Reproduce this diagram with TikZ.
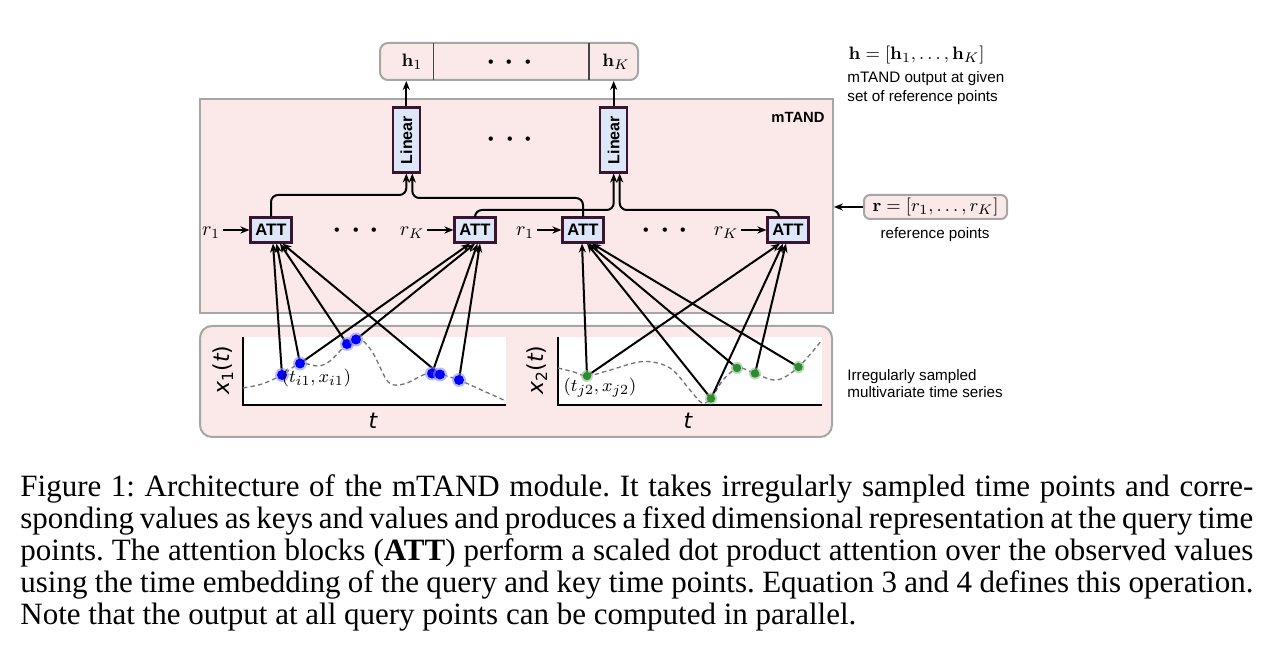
\documentclass[tikz,border=0pt]{standalone}
\usepackage[no-math]{fontspec}
\setmainfont{Liberation Serif}
\newfontfamily\hv{Liberation Sans}
\newfontfamily\dvs{DejaVu Sans}
\usetikzlibrary{arrows.meta,calc}
\definecolor{pinkbg}{RGB}{251,233,233}
\definecolor{graybd}{RGB}{166,166,166}
\definecolor{attfill}{RGB}{221,231,247}
\definecolor{attbd}{RGB}{58,21,48}
\definecolor{divc}{RGB}{70,70,70}
\definecolor{ptblue}{RGB}{0,0,255}
\definecolor{ptgreen}{RGB}{46,139,46}
\frenchspacing
\begin{document}
\begin{tikzpicture}[x=0.5pt,y=-0.5pt,
  arr/.style={line width=1pt,-{Stealth[length=4.5pt,width=3.6pt]}},
  conn/.style={arr,rounded corners=3.5pt},
  attbox/.style={draw=attbd,fill=attfill,line width=1.1pt,minimum width=20.5pt,minimum height=12.5pt,inner sep=0pt,font=\hv\bfseries\fontsize{8.3}{9}\selectfont},
  linbox/.style={attbox,rotate=90,minimum width=32.5pt,minimum height=13.5pt,font=\hv\bfseries\fontsize{8}{9}\selectfont},
  panel/.style={draw=graybd,fill=pinkbg,line width=1pt,inner sep=0pt},
  mathlbl/.style={font=\fontsize{9.5}{11}\selectfont,inner sep=0pt},
  rlbl/.style={font=\fontsize{10}{11}\selectfont,inner sep=1.2pt},
  side/.style={font=\hv\fontsize{7.6}{9.5}\selectfont,inner sep=0pt},
  dotsn/.style={font=\fontsize{21}{21}\selectfont,inner sep=0pt,anchor=base},
  axlbl/.style={font=\dvs\fontsize{11}{12}\selectfont,inner sep=0pt},
  curve/.style={black!55,line width=0.65pt,dash pattern=on 2.2pt off 1.6pt},
  capline/.style={font=\fontsize{15.5}{16}\selectfont,anchor=base west,inner sep=0pt},
]
\useasboundingbox (0,0) rectangle (1266,662);

% panels
\node[panel,minimum width=316.5pt,minimum height=107pt] (mtand) at (516.5,206) {};
\node[font=\hv\bfseries\fontsize{7.4}{9}\selectfont,inner sep=0pt] (mtandlbl) at (798,117) {mTAND};
\node[panel,rounded corners=6pt,minimum width=316pt,minimum height=55.5pt] (lower) at (516,381.5) {};
\node[panel,rounded corners=4pt,minimum width=129pt,minimum height=18.5pt] (out) at (509,61.5) {};
\draw[divc,line width=0.8pt] (433.3,43) -- (433.3,80);
\draw[divc,line width=0.8pt] (589,43) -- (589,80);
\node[mathlbl] (h1t) at (412,62) {$\mathbf{h}_1$};
\node[mathlbl] (hKt) at (616,62) {$\mathbf{h}_K$};
\node[dotsn] (dout) at (509.5,72.5) {$\cdots$};

% linear + att
\node[linbox] (lin1) at (406.3,140) {Linear};
\node[linbox] (lin2) at (613.7,140) {Linear};
\node[dotsn] (dlin) at (510,149.5) {$\cdots$};
\node[attbox] (att1) at (271,230) {ATT};
\node[attbox] (att2) at (475,230) {ATT};
\node[attbox] (att3) at (583,230) {ATT};
\node[attbox] (att4) at (788,230) {ATT};
\node[dotsn] (datt1) at (356,240.5) {$\cdots$};
\node[dotsn] (datt2) at (665,240.5) {$\cdots$};

\node[rlbl] (r1a) at (211,233) {$r_1$};
\node[rlbl] (rKa) at (412,233) {$r_K$};
\node[rlbl] (r1b) at (525,233) {$r_1$};
\node[rlbl] (rKb) at (726,233) {$r_K$};
\draw[arr] (att1.west -| r1a.east) -- (att1.west);
\draw[arr] (att2.west -| rKa.east) -- (att2.west);
\draw[arr] (att3.west -| r1b.east) -- (att3.west);
\draw[arr] (att4.west -| rKb.east) -- (att4.west);

\draw[arr] (lin1.east) -- (lin1.east |- out.south);
\draw[arr] (lin2.east) -- (lin2.east |- out.south);

\coordinate (ya) at (0,195);
\coordinate (yb) at (0,198);
\coordinate (yc) at (0,210);
\draw[conn] (att1.north) -- (att1.north |- ya) -| (lin1.west);
\draw[conn] (att3.north) -- (att3.north |- yb) -| ($(lin1.west)+(6,0)$);
\draw[conn] (att2.north) -- (att2.north |- yc) -| (lin2.west);
\draw[conn] ($(att4.north)+(-9,0)$) -- ($(att4.north |- yc)+(-9,0)$) -| ($(lin2.west)+(6,0)$);

% plots
\fill[white] (243,337) rectangle (506,405);
\draw[black,line width=0.6pt] (243,337) -- (243,405) -- (506,405);
\fill[white] (558,337) rectangle (822,405);
\draw[black,line width=0.6pt] (558,337) -- (558,405) -- (822,405);

\draw[curve] plot[smooth,tension=0.55] coordinates {(243,388) (262,384) (282,375) (300,363.5) (318,366) (330,361) (347,344) (356,339.5) (362,340) (373,353) (386,379) (394,385) (407,383) (423,375) (432,373.5) (443,375) (459,380) (477,388) (497,397) (506,401)};
\draw[curve] plot[smooth,tension=0.55] coordinates {(558,368) (574,372) (587,376) (607,371) (643,361.5) (670,368) (690,390) (702,403) (711,398.5) (723,380) (737,368) (747,370) (755,373.5) (777,380) (798.5,367) (822,340)};

\node[axlbl,rotate=90] (yl1) at (223,370) {{\itshape x}\raisebox{-0.3ex}{\fontsize{7.7}{8}\selectfont 1}({\itshape t})};
\node[axlbl] (xl1) at (373,421) {\itshape t};
\node[axlbl,rotate=90] (yl2) at (537,370) {{\itshape x}\raisebox{-0.3ex}{\fontsize{7.7}{8}\selectfont 2}({\itshape t})};
\node[axlbl] (xl2) at (688,421) {\itshape t};

% points
\coordinate (b1) at (282,375);
\coordinate (b2) at (300,363.5);
\coordinate (b3) at (347,344);
\coordinate (b4) at (356,339.5);
\coordinate (b5) at (432,373.5);
\coordinate (b6) at (440,374.5);
\coordinate (b7) at (459,380);
\coordinate (g1) at (587,376);
\coordinate (g2) at (711,398.5);
\coordinate (g3) at (737,368);
\coordinate (g4) at (755,373.5);
\coordinate (g5) at (798.5,367);

\draw[arr] (b1) -- ($(att1.south)+(2,0)$);
\draw[arr] (b2) -- ($(att1.south)+(5.5,0)$);
\draw[arr] (b3) -- ($(att1.south)+(9,0)$);
\draw[arr] (b6) -- ($(att1.south)+(11.5,0)$);
\draw[arr] (b2) -- ($(att2.south)+(-5,0)$);
\draw[arr] (b4) -- ($(att2.south)+(0,0)$);
\draw[arr] (b5) -- ($(att2.south)+(2.5,0)$);
\draw[arr] (b7) -- ($(att2.south)+(5,0)$);
\draw[arr] (g1) -- ($(att3.south)+(-1,0)$);
\draw[arr] (g2) -- ($(att3.south)+(4,0)$);
\draw[arr] (g3) -- ($(att3.south)+(5.5,0)$);
\draw[arr] (g5) -- ($(att3.south)+(9,0)$);
\draw[arr] (g1) -- ($(att4.south)+(-8,0)$);
\draw[arr] (g2) -- ($(att4.south)+(-5,0)$);
\draw[arr] (g4) -- ($(att4.south)+(-2,0)$);

\foreach \p in {b1,b2,b3,b4,b5,b6,b7}{
  \fill[ptblue!45,opacity=0.6] (\p) circle (3.5pt);
  \fill[ptblue] (\p) circle (2.5pt);
}
\foreach \p in {g1,g2,g3,g4,g5}{
  \fill[ptgreen!55,opacity=0.6] (\p) circle (3pt);
  \fill[ptgreen] (\p) circle (2.1pt);
}

\node[mathlbl] (lbl1) at (316.5,378) {$(t_{i1},x_{i1})$};
\node[mathlbl] (lbl2) at (600,388) {$(t_{j2},x_{j2})$};

% right side annotations
\node[mathlbl] (hdef) at (916.5,55) {$\mathbf{h}=[\mathbf{h}_1,\ldots,\mathbf{h}_K]$};
\node[side,anchor=base west] (o1) at (847,83) {mTAND output at given};
\node[side,anchor=base west] (o2) at (847,102) {set of reference points};
\node[panel,rounded corners=3pt,minimum width=71.5pt,minimum height=12pt,font=\fontsize{9.5}{11}\selectfont] (rbox) at (935.5,207) {$\mathbf{r}=[r_1,\ldots,r_K]$};
\draw[arr] (rbox.west) -- (rbox.west -| mtand.east);
\node[side] (refpts) at (935,235) {reference points};
\node[side,anchor=base west] (irr1) at (847,381) {Irregularly sampled};
\node[side,anchor=base west] (irr2) at (847,398) {multivariate time series};

% caption
\node[capline] (c1) at (20,497) {\makebox[616.5pt][s]{Figure 1: Architecture of the mTAND module. It takes irregularly sampled time points and corre-}};
\node[capline] (c2) at (20,529) {\makebox[616.5pt][s]{sponding values as keys and values and produces a fixed dimensional representation at the query time}};
\node[capline] (c3) at (20,561) {\makebox[616.5pt][s]{points. The attention blocks (\textbf{ATT}) perform a scaled dot product attention over the observed values}};
\node[capline] (c4) at (20,593) {\makebox[616.5pt][s]{using the time embedding of the query and key time points. Equation 3 and 4 defines this operation.}};
\node[capline] (c5) at (20,625) {Note that the output at all query points can be computed in parallel.};
\end{tikzpicture}
\end{document}
